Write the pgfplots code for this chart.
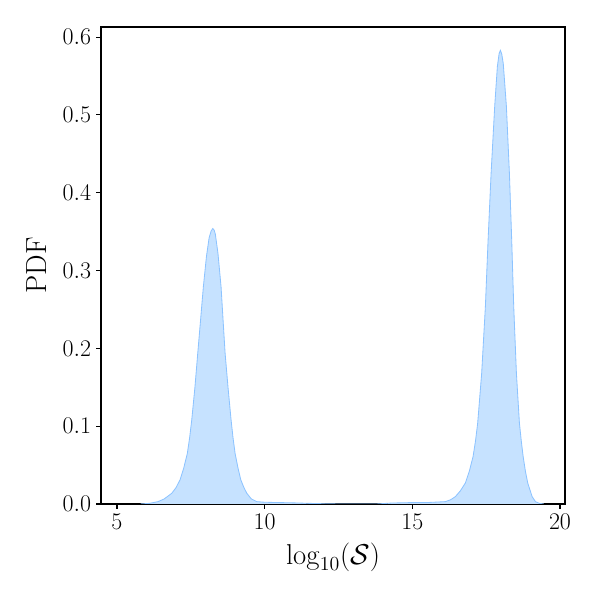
\documentclass[border=0pt]{standalone}
\usepackage{pgfplots}
\usepackage{pgfplotstable}
\pgfplotsset{compat=1.18}
\definecolor{fillc}{RGB}{198,226,255}
\definecolor{linec}{RGB}{140,195,255}
\pgfplotstableread{
x y
5.8 0
6.1 0.0008
6.39 0.003
6.6 0.0065
6.854 0.0137
7.0 0.021
7.136 0.031
7.26 0.046
7.383 0.065
7.46 0.085
7.532 0.108
7.64 0.150
7.736 0.194
7.83 0.236
7.925 0.279
8.03 0.318
8.12 0.342
8.19 0.351
8.244 0.354
8.29 0.352
8.33 0.347
8.42 0.322
8.525 0.279
8.59 0.238
8.661 0.194
8.76 0.150
8.864 0.108
8.93 0.085
9.0 0.065
9.1 0.046
9.193 0.031
9.3 0.021
9.397 0.0137
9.55 0.0065
9.736 0.003
10.0 0.0022
10.5 0.0018
11.0 0.0014
11.5 0.0008
12.0 0.0003
12.5 0.0
13.8 0.0
14.3 0.0012
15.0 0.0018
15.6 0.002
16.12 0.003
16.3 0.0055
16.458 0.0094
16.63 0.017
16.797 0.027
16.93 0.042
17.058 0.061
17.14 0.081
17.214 0.104
17.349 0.168
17.475 0.254
17.566 0.339
17.668 0.425
17.79 0.511
17.88 0.562
17.94 0.579
17.983 0.583
18.03 0.578
18.08 0.566
18.186 0.511
18.288 0.425
18.366 0.339
18.434 0.254
18.525 0.168
18.627 0.104
18.69 0.081
18.753 0.061
18.83 0.042
18.908 0.027
19.058 0.0094
19.169 0.003
19.3 0.0008
19.45 0.0
}\pdfdata
\begin{document}
\begin{tikzpicture}
\path (-73pt,-69.4pt) rectangle (360.6pt,364.2pt);
\begin{axis}[
  at={(0,0)}, anchor=south west,
  scale only axis, width=335.3pt, height=344.7pt,
  xmin=4.46, xmax=20.17, ymin=0, ymax=0.613,
  xtick={5,10,15,20}, ytick={0,0.1,0.2,0.3,0.4,0.5,0.6},
  tick align=outside, major tick length=3.6pt,
  xtick pos=left, ytick pos=left,
  axis line style={line width=1pt}, every tick/.style={black, line width=0.8pt},
  yticklabel style={/pgf/number format/fixed, /pgf/number format/precision=1, /pgf/number format/fixed zerofill},
  ticklabel style={font=\fontsize{16}{19}\selectfont},
  label style={font=\fontsize{21}{25}\selectfont},
  xlabel={$\log_{10}(\mathcal{S})$},
  ylabel={PDF},
  xlabel style={at={(axis description cs:0.5,-0.111)}, anchor=center},
  ylabel style={at={(axis description cs:-0.138,0.5)}, anchor=center},
]
\addplot[fill=fillc, draw=none] table {\pdfdata} \closedcycle;
\addplot[draw=linec, line width=0.6pt] table {\pdfdata};
\end{axis}
\end{tikzpicture}
\end{document}
